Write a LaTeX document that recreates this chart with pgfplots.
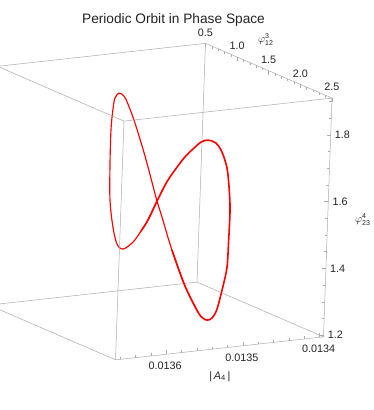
\documentclass[border=0pt]{standalone}
\usepackage{fontspec}
\setmainfont{Liberation Sans}
\usepackage{pgfplots}
\pgfplotsset{compat=1.18}
\definecolor{boxgray}{RGB}{170,170,170}
\definecolor{lbl}{RGB}{35,35,35}
\newcommand{\tf}{\fontsize{10.8}{12}\selectfont}
\begin{document}
\begin{tikzpicture}
% x axis is plotted in units of 1e-4 relative to 0.0135: x' = (|A4| - 0.0135)*10000
\begin{axis}[
  x={(-76.75pt,-8.487pt)},
  y={(63.25pt,-27.375pt)},
  z={(11.89pt,333.92pt)},
  xmin=-1.05, xmax=1.66,
  ymin=0.5, ymax=2.5,
  zmin=1.195, zmax=1.91,
  xtick=\empty, ytick=\empty, ztick=\empty,
  3d box=complete,
  axis line style={draw=boxgray, line width=0.5pt},
  clip=false,
]
% far part of the orbit
\addplot3[color=red, line width=1.15pt, smooth, tension=0.55,
  x filter/.expression={(x-0.0135)*10000}] coordinates {
(0.0135522,1.704,1.5762)
(0.0135547,1.603,1.5117)
(0.0135546,1.500,1.4703)
(0.0135559,1.397,1.4292)
(0.0135602,1.296,1.4011)
(0.0135602,1.200,1.4082)
(0.0135589,1.112,1.4515)
(0.0135574,1.033,1.5256)
(0.0135534,0.966,1.6239)
(0.0135492,0.912,1.7232)
(0.0135442,0.872,1.7815)
(0.0135401,0.848,1.8115)
(0.0135344,0.840,1.8243)
(0.0135284,0.848,1.8145)
(0.0135248,0.872,1.7916)
(0.0135181,0.912,1.7362)
(0.0135080,0.966,1.6393)
(0.0135018,1.033,1.5534)
(0.0135025,1.112,1.5151)
(0.0135026,1.200,1.4744)
(0.0134961,1.296,1.3818)
(0.0134858,1.397,1.2796)
(0.0134763,1.500,1.2078)
};
% near part of the orbit
\addplot3[color=red, line width=1.6pt, smooth, tension=0.55,
  x filter/.expression={(x-0.0135)*10000}] coordinates {
(0.0134961,1.296,1.3818)
(0.0134858,1.397,1.2796)
(0.0134763,1.500,1.2078)
(0.0134782,1.603,1.1988)
(0.0134813,1.704,1.2018)
(0.0134829,1.800,1.2161)
(0.0134842,1.888,1.2506)
(0.0134840,1.967,1.3259)
(0.0134853,2.034,1.3886)
(0.0134890,2.088,1.4659)
(0.0134919,2.128,1.5687)
(0.0134963,2.152,1.6407)
(0.0135005,2.160,1.6993)
(0.0135071,2.152,1.7482)
(0.0135134,2.128,1.7748)
(0.0135206,2.088,1.7824)
(0.0135252,2.034,1.7731)
(0.0135284,1.967,1.7504)
(0.0135344,1.888,1.7156)
(0.0135469,1.800,1.6456)
(0.0135522,1.704,1.5762)
(0.0135547,1.603,1.5117)
(0.0135546,1.500,1.4703)
};
% x ticks (bottom front edge)
\draw[boxgray, line width=0.5pt] (axis cs:-1,2.5,1.195) -- ++(0pt,4pt);
\draw[boxgray, line width=0.5pt] (axis cs:0,2.5,1.195) -- ++(0pt,4pt);
\draw[boxgray, line width=0.5pt] (axis cs:1,2.5,1.195) -- ++(0pt,4pt);
\node[lbl, font=\tf, anchor=north, inner sep=0pt, yshift=-7.5pt, xshift=-1pt] at (axis cs:-1,2.5,1.195) {0.0134};
\node[lbl, font=\tf, anchor=north, inner sep=0pt, yshift=-7.5pt, xshift=-1pt] at (axis cs:0,2.5,1.195) {0.0135};
\node[lbl, font=\tf, anchor=north, inner sep=0pt, yshift=-7.5pt, xshift=-1pt] at (axis cs:1,2.5,1.195) {0.0136};
\pgfplotsinvokeforeach{-0.8,-0.6,-0.4,-0.2,0.2,0.4,0.6,0.8,1.2,1.4,1.6}{
  \draw[boxgray, line width=0.5pt] (axis cs:#1,2.5,1.195) -- ++(0pt,2.5pt);
}
% y ticks (top back edge)
\pgfplotsinvokeforeach{0.5,1.0,1.5,2.0,2.5}{
  \draw[boxgray, line width=0.5pt] (axis cs:-1.05,#1,1.91) -- ++(0pt,-4pt);
  \node[lbl, font=\tf, anchor=south, inner sep=0pt, yshift=7pt] at (axis cs:-1.05,#1,1.91) {#1};
}
\pgfplotsinvokeforeach{0.6,0.7,0.8,0.9,1.1,1.2,1.3,1.4,1.6,1.7,1.8,1.9,2.1,2.2,2.3,2.4}{
  \draw[boxgray, line width=0.5pt] (axis cs:-1.05,#1,1.91) -- ++(0pt,-2.5pt);
}
% z ticks (right vertical edge)
\pgfplotsinvokeforeach{1.2,1.4,1.6,1.8}{
  \draw[boxgray, line width=0.5pt] (axis cs:-1.05,2.5,#1) -- ++(-4pt,0pt);
  \node[lbl, font=\tf, anchor=west, inner sep=0pt, xshift=4pt] at (axis cs:-1.05,2.5,#1) {#1};
}
\pgfplotsinvokeforeach{1.25,1.3,1.35,1.45,1.5,1.55,1.65,1.7,1.75,1.85,1.9}{
  \draw[boxgray, line width=0.5pt] (axis cs:-1.05,2.5,#1) -- ++(-2.5pt,0pt);
}
% axis labels
\node[lbl, font=\tf, anchor=center, yshift=-28pt] at (axis cs:0.3,2.5,1.195) {\textbar\,\textit{A}\textsubscript{4}\,\textbar};
\node[lbl, font=\tf, anchor=center, inner sep=1pt, yshift=31.5pt, xshift=-3pt] at (axis cs:-1.05,1.5,1.91) {$\varphi^{\mbox{\fontsize{7}{7}\selectfont 3}}_{\mbox{\fontsize{7}{7}\selectfont 12}}$};
\node[lbl, font=\tf, anchor=center, inner sep=1pt, xshift=35pt, yshift=-2pt] at (axis cs:-1.05,2.5,1.5525) {$\varphi^{\mbox{\fontsize{7}{7}\selectfont 4}}_{\mbox{\fontsize{7}{7}\selectfont 23}}$};
\coordinate (Hc) at (axis cs:1.66,2.5,1.195);
\end{axis}
\node[lbl, font=\fontsize{13.7}{15}\selectfont, anchor=base] at ([shift={(58pt,335.85pt)}]Hc) {Periodic Orbit in Phase Space};
\pgfresetboundingbox
\path[use as bounding box] (Hc) ++(-115.5pt,-50.15pt) rectangle ++(374pt,410pt);
\end{tikzpicture}
\end{document}
